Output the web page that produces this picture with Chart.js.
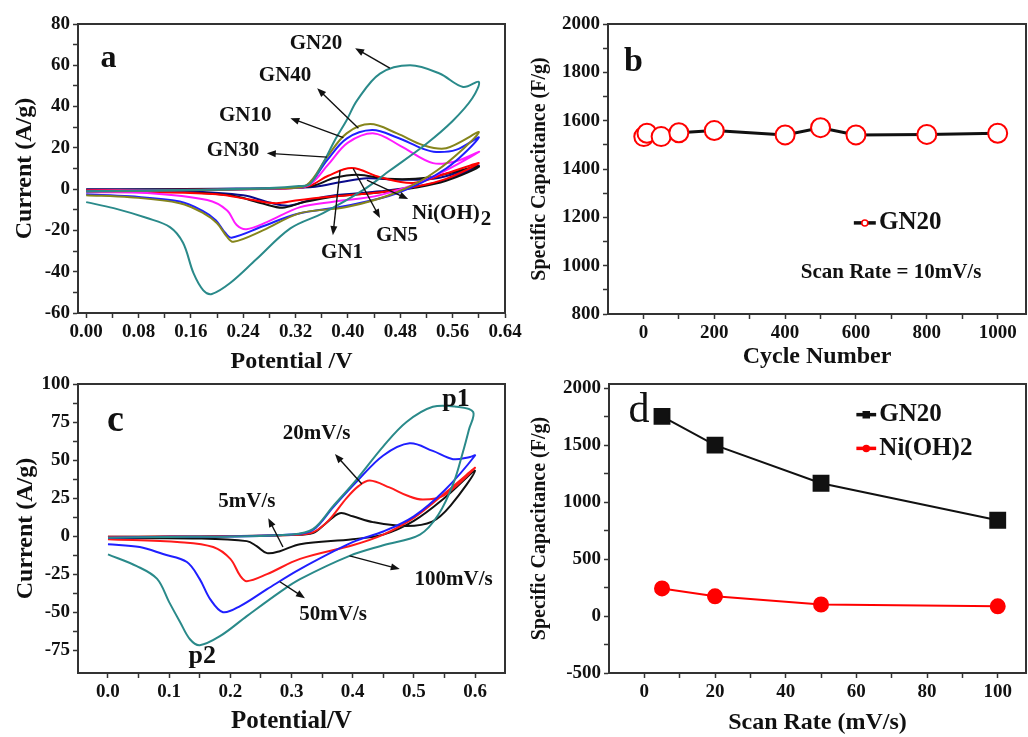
<!DOCTYPE html>
<html>
<head>
<meta charset="utf-8">
<script src="https://cdn.jsdelivr.net/npm/chart.js@4.4.1/dist/chart.umd.min.js"></script>
<style>
  html, body { margin: 0; padding: 0; background: #fff; }
  #wrap { position: relative; width: 1028px; height: 737px; overflow: hidden; }
  canvas { position: absolute; }
</style>
</head>
<body>
<div id="wrap">
  <canvas id="pa" width="530" height="378" style="left:0;top:0"></canvas>
  <canvas id="pb" width="538" height="378" style="left:512px;top:0"></canvas>
  <canvas id="pc" width="512" height="367" style="left:0;top:370px"></canvas>
  <canvas id="pd" width="538" height="367" style="left:512px;top:370px"></canvas>
</div>
<script>
// ---- panel a: CV curves of the composites, [potential V, current A/g], anodic then cathodic
const gn20 = [[0,-1],[0.1,-0.6],[0.2,-0.2],[0.28,0.5],[0.325,1.5],[0.342,2.5],[0.362,12.6],[0.38,23.7],[0.398,33.4],[0.414,43],[0.449,56],[0.495,60],[0.54,56],[0.576,49.5],[0.6,52],
  [0.59,44],[0.56,33],[0.52,22],[0.464,9],[0.423,-0.5],[0.362,-11.6],[0.312,-19],[0.26,-34],[0.22,-45.5],[0.192,-50.8],[0.179,-49],[0.164,-40.7],[0.148,-26],[0.128,-18.4],[0.093,-14],[0.042,-9.2],[0,-6.3]];
const gn40 = [[0,-1.2],[0.1,-0.8],[0.2,-0.3],[0.3,0.5],[0.337,2],[0.368,15.5],[0.398,27],[0.434,31.5],[0.475,27],[0.515,21.3],[0.55,19.8],[0.6,27.5],
  [0.536,9],[0.475,-1.5],[0.398,-8.7],[0.327,-11.6],[0.27,-20],[0.225,-25.5],[0.215,-23],[0.2,-16.5],[0.179,-11.6],[0.143,-6.8],[0.067,-3.9],[0,-2.9]];
const gn10 = [[0,-1],[0.1,-0.7],[0.2,-0.3],[0.3,0.5],[0.338,2],[0.368,14],[0.398,24.5],[0.437,28.6],[0.475,25],[0.515,19.5],[0.535,18],[0.565,19],[0.6,25],
  [0.55,10],[0.475,-2],[0.398,-8],[0.322,-12],[0.27,-18],[0.222,-23.5],[0.212,-21],[0.198,-15],[0.178,-10.5],[0.143,-6],[0.067,-3.5],[0,-2.5]];
const gn30 = [[0,-0.8],[0.1,-0.6],[0.2,-0.3],[0.3,0.4],[0.34,2],[0.37,12],[0.4,22.5],[0.44,27],[0.48,21],[0.53,12.6],[0.565,13.5],[0.6,18],
  [0.525,5.3],[0.449,-2.9],[0.38,-6],[0.327,-8.7],[0.276,-16],[0.245,-19.4],[0.23,-17.4],[0.215,-10.2],[0.185,-5.3],[0.093,-1.9],[0,-1.5]];
const gn1 = [[0,-0.5],[0.1,-0.4],[0.2,-0.2],[0.3,0.3],[0.34,1.5],[0.37,6.5],[0.406,10.2],[0.449,5.8],[0.5,3],[0.551,7.7],[0.6,12.6],
  [0.55,5],[0.5,1],[0.45,-1.5],[0.38,-3.5],[0.32,-5.5],[0.29,-6.8],[0.25,-5],[0.2,-2.5],[0.1,-1.5],[0,-1]];
const gn5 = [[0,-0.3],[0.1,-0.2],[0.2,0],[0.3,0.3],[0.345,1.5],[0.38,5.5],[0.415,7],[0.46,5],[0.52,5.5],[0.6,11],
  [0.55,4],[0.5,0.5],[0.45,-1.5],[0.37,-4],[0.33,-6.5],[0.3,-9],[0.27,-7],[0.22,-3],[0.12,-1],[0,-0.5]];
const nioh = [[0,0],[0.1,0],[0.2,0.2],[0.3,0.5],[0.35,1.2],[0.39,3.5],[0.43,5.3],[0.48,4.5],[0.54,5.5],[0.6,11.5],
  [0.55,4.5],[0.5,1],[0.45,-1],[0.38,-3],[0.34,-5.5],[0.31,-8],[0.28,-6.5],[0.24,-3],[0.15,-1],[0,-0.2]];
const aNames = ['GN20', 'GN40', 'GN10', 'GN30', 'GN1', 'GN5', 'Ni(OH)2'];
const aCurves = [gn20, gn40, gn10, gn30, gn1, gn5, nioh];
const aTicksX = [0, 0.08, 0.16, 0.24, 0.32, 0.40, 0.48, 0.56, 0.64];
const aTicksY = [-60, -40, -20, 0, 20, 40, 60, 80];

// ---- panel b: cycling stability of GN20 at 10 mV/s
const cycles = [1, 10, 50, 100, 200, 400, 500, 600, 800, 1000];
const capCycle = [1534, 1548, 1534, 1550, 1559, 1541, 1571, 1541, 1543, 1548];
const bTicksX = [0, 200, 400, 600, 800, 1000];
const bTicksY = [800, 1000, 1200, 1400, 1600, 1800, 2000];

// ---- panel c: GN20 CV at different scan rates
const cv100 = [[0,-1],[0.1,-0.6],[0.2,-0.2],[0.3,1],[0.335,4.6],[0.368,19.7],[0.407,37.5],[0.45,59],[0.488,75],[0.531,85],[0.57,85],[0.597,81.6],
  [0.59,70],[0.58,55],[0.565,35],[0.54,14],[0.51,1],[0.45,-6],[0.395,-13],[0.314,-28.3],[0.281,-36.8],[0.227,-52.6],[0.183,-65.8],[0.15,-71.7],[0.134,-67.8],[0.118,-56.6],[0.1,-43.4],[0.08,-28],[0.047,-19.7],[0,-12]];
const cv50 = [[0,-1],[0.1,-0.5],[0.2,-0.2],[0.3,1],[0.335,4],[0.368,19],[0.407,36],[0.45,53],[0.493,61],[0.531,56],[0.564,50.6],[0.592,52],[0.6,53],
  [0.55,30],[0.5,13],[0.45,3],[0.4,-4],[0.314,-21.7],[0.26,-34.9],[0.216,-46],[0.188,-50],[0.167,-41.4],[0.15,-28.3],[0.129,-17],[0.09,-11.8],[0.052,-7.2],[0,-5.3]];
const cv20 = [[0,-0.5],[0.1,-0.3],[0.2,0],[0.3,0.8],[0.335,2.5],[0.36,10],[0.39,25],[0.41,33],[0.428,36.5],[0.46,32],[0.49,26.5],[0.515,24],[0.55,27],[0.6,45],
  [0.55,28],[0.5,12],[0.45,1],[0.4,-6],[0.314,-15],[0.26,-25],[0.227,-29.6],[0.216,-26],[0.2,-15],[0.172,-7.2],[0.118,-4],[0,-2]];
const cv5 = [[0,-0.5],[0.1,-0.3],[0.2,0],[0.3,0.8],[0.335,2],[0.355,8],[0.379,15],[0.4,13],[0.433,9.2],[0.488,6.6],[0.53,9.5],[0.56,20],[0.6,43],
  [0.55,25],[0.5,10],[0.45,1],[0.4,-2],[0.314,-5.3],[0.281,-9.9],[0.26,-11.2],[0.243,-6.6],[0.227,-3.3],[0.15,-1.5],[0,-1.5]];
const cNames = ['100mV/s', '50mV/s', '20mV/s', '5mV/s'];
const cCurves = [cv100, cv50, cv20, cv5];
const cTicksX = [0, 0.1, 0.2, 0.3, 0.4, 0.5, 0.6];
const cTicksY = [-75, -50, -25, 0, 25, 50, 75, 100];

// ---- panel d: specific capacitance vs scan rate
const scanRates = [5, 20, 50, 100];
const capGN20 = [1752, 1500, 1165, 840];
const capNiOH = [242, 173, 101, 85];
const dNames = ['GN20', 'Ni(OH)2'];
const dTicksX = [0, 20, 40, 60, 80, 100];
const dTicksY = [-500, 0, 500, 1000, 1500, 2000];

const SERIF = '"Liberation Serif", "DejaVu Serif", serif';
const INK = '#111';

function pts(arr) {
  return arr.map(p => ({ x: p[0], y: p[1] }));
}

// major ticks labelled, minor ticks (midpoints) drawn without label
function axis(min, max, majors, digits, title, titleSize, size, pad) {
  const minors = [];
  for (let i = 0; i < majors.length - 1; i++) minors.push((majors[i] + majors[i + 1]) / 2);
  const all = majors.concat(minors).sort((a, b) => a - b);
  return {
    type: 'linear', min: min, max: max,
    afterBuildTicks: s => { s.ticks = all.map(v => ({ value: v })); },
    afterFit: s => {
      if (s.isHorizontal()) s.height = size; else s.width = size;
      s.paddingLeft = s.paddingRight = s.paddingTop = s.paddingBottom = 0;
    },
    ticks: {
      autoSkip: false, maxRotation: 0, color: INK, padding: 3,
      font: { family: SERIF, size: 19, weight: 'bold' },
      callback: v => majors.some(m => Math.abs(m - v) < 1e-9) ? v.toFixed(digits) : ''
    },
    grid: { drawOnChartArea: false, drawTicks: true, tickLength: 5, tickColor: '#333', tickWidth: 1.5 },
    border: { color: '#333', width: 2 },
    title: { display: true, text: title, color: INK, padding: pad,
      font: { family: SERIF, size: titleSize, weight: 'bold' } }
  };
}

const frame = {
  id: 'frame',
  afterDatasetsDraw(chart) {
    const { ctx, chartArea: a } = chart;
    ctx.save();
    ctx.strokeStyle = '#333';
    ctx.lineWidth = 2;
    ctx.strokeRect(a.left, a.top, a.right - a.left, a.bottom - a.top);
    ctx.restore();
  }
};

function arrow(ctx, x1, y1, x2, y2) {
  const ang = Math.atan2(y2 - y1, x2 - x1);
  ctx.beginPath();
  ctx.moveTo(x1, y1);
  ctx.lineTo(x2 - 6 * Math.cos(ang), y2 - 6 * Math.sin(ang));
  ctx.stroke();
  ctx.beginPath();
  ctx.moveTo(x2, y2);
  ctx.lineTo(x2 - 9 * Math.cos(ang) + 3.5 * Math.sin(ang), y2 - 9 * Math.sin(ang) - 3.5 * Math.cos(ang));
  ctx.lineTo(x2 - 9 * Math.cos(ang) - 3.5 * Math.sin(ang), y2 - 9 * Math.sin(ang) + 3.5 * Math.cos(ang));
  ctx.closePath();
  ctx.fill();
}

// labels, arrows and hand legends, all placed in data units
const notes = {
  id: 'notes',
  afterDraw(chart, args, opts) {
    const { ctx, scales: { x, y } } = chart;
    ctx.save();
    ctx.fillStyle = INK;
    ctx.strokeStyle = INK;
    ctx.lineWidth = 1.4;
    (opts.arrows || []).forEach(a => arrow(ctx, x.getPixelForValue(a[0]), y.getPixelForValue(a[1]),
      x.getPixelForValue(a[2]), y.getPixelForValue(a[3])));
    (opts.keys || []).forEach(k => {
      const x1 = x.getPixelForValue(k.x1), x2 = x.getPixelForValue(k.x2), py = y.getPixelForValue(k.y);
      ctx.strokeStyle = k.line; ctx.lineWidth = 3.5;
      ctx.beginPath(); ctx.moveTo(x1, py); ctx.lineTo(x2, py); ctx.stroke();
      ctx.fillStyle = k.fill; ctx.strokeStyle = k.mark; ctx.lineWidth = 1.5;
      const cx = (x1 + x2) / 2;
      ctx.beginPath();
      if (k.square) ctx.rect(cx - 3, py - 3, 6, 6); else ctx.arc(cx, py, 3, 0, Math.PI * 2);
      ctx.fill(); ctx.stroke();
    });
    ctx.fillStyle = INK;
    ctx.textBaseline = 'middle';
    (opts.texts || []).forEach(t => {
      ctx.font = (t.bold === false ? '' : 'bold ') + t.size + 'px ' + SERIF;
      ctx.textAlign = t.align || 'center';
      const px = x.getPixelForValue(t.x), py = y.getPixelForValue(t.y);
      ctx.fillText(t.text, px, py);
      if (t.sub) {
        const w = ctx.measureText(t.text).width;
        const left = t.align === 'left' ? px : px - w / 2;
        ctx.textAlign = 'left';
        ctx.fillText(t.sub, left + w + 1, py + t.size * 0.3);
      }
    });
    ctx.restore();
  }
};

function cvSet(names, curves, colors) {
  return names.map((n, i) => ({
    label: n, data: pts(curves[i]), showLine: true, borderColor: colors[i],
    borderWidth: 2, pointRadius: 0, tension: 0.35, fill: false
  }));
}

const base = {
  responsive: false, animation: false, events: [],
  plugins: { legend: { display: false }, tooltip: { enabled: false } }
};

new Chart(document.getElementById('pa'), {
  type: 'scatter',
  data: { datasets: cvSet(aNames, aCurves, ['#2a8a8a', '#85851c', '#1f1fff', '#ff1aff', '#ff0000', '#111111', '#0a0a8c']) },
  options: Object.assign({}, base, {
    layout: { padding: { top: 24, right: 25, left: 0, bottom: 0 } },
    scales: {
      x: axis(-0.0125, 0.64, aTicksX, 2, 'Potential /V', 24, 65, { top: 4, bottom: 2 }),
      y: axis(-60, 80, aTicksY, 0, 'Current (A/g)', 24, 78, { top: 10, bottom: 4 })
    },
    plugins: Object.assign({}, base.plugins, { notes: {
      arrows: [[0.464, 58.6, 0.411, 68.3], [0.416, 29.5, 0.353, 48.9], [0.393, 25, 0.312, 34.4],
        [0.368, 15.5, 0.276, 17.4], [0.388, 9.2, 0.377, -22.3], [0.408, 10, 0.449, -14], [0.429, 4.4, 0.492, -4.8]],
      texts: [
        { text: 'a', x: 0.034, y: 63.4, size: 32 },
        { text: aNames[0], x: 0.351, y: 70.7, size: 21 },
        { text: aNames[1], x: 0.304, y: 55.2, size: 21 },
        { text: aNames[2], x: 0.243, y: 35.8, size: 21 },
        { text: aNames[3], x: 0.2245, y: 18.9, size: 21 },
        { text: aNames[4], x: 0.391, y: -30.5, size: 21 },
        { text: aNames[5], x: 0.475, y: -22.3, size: 21 },
        { text: 'Ni(OH)', sub: '2', x: 0.498, y: -11.6, size: 21, align: 'left' }
      ]
    } })
  }),
  plugins: [frame, notes]
});

new Chart(document.getElementById('pb'), {
  type: 'line',
  data: { datasets: [{
    label: 'GN20', data: cycles.map((c, i) => ({ x: c, y: capCycle[i] })),
    borderColor: '#111', borderWidth: 3, pointRadius: 9.5, pointBorderWidth: 2,
    pointBorderColor: '#ff0000', pointBackgroundColor: '#fff', tension: 0
  }] },
  options: Object.assign({}, base, {
    layout: { padding: { top: 24, right: 24, left: 0, bottom: 0 } },
    scales: {
      x: axis(-100, 1080, bTicksX, 0, 'Cycle Number', 24, 64, { top: 4, bottom: 7 }),
      y: axis(800, 2000, bTicksY, 0, 'Specific Capacitance (F/g)', 20, 96, { top: 16, bottom: 4 })
    },
    plugins: Object.assign({}, base.plugins, { notes: {
      keys: [{ x1: 594, x2: 656, y: 1177, line: '#111', mark: '#ff0000', fill: '#fff' }],
      texts: [
        { text: 'b', x: -28, y: 1843, size: 34 },
        { text: 'GN20', x: 665, y: 1177, size: 25, align: 'left' },
        { text: 'Scan Rate = 10mV/s', x: 699, y: 970, size: 21 }
      ]
    } })
  }),
  plugins: [frame, notes]
});

new Chart(document.getElementById('pc'), {
  type: 'scatter',
  data: { datasets: cvSet(cNames, cCurves, ['#2a8a8a', '#1f1fff', '#ff1a1a', '#111111']) },
  options: Object.assign({}, base, {
    layout: { padding: { top: 14, right: 7, left: 0, bottom: 0 } },
    scales: {
      x: axis(-0.049, 0.649, cTicksX, 1, 'Potential/V', 25, 64, { top: 4, bottom: 0 }),
      y: axis(-90, 100, cTicksY, 0, 'Current (A/g)', 24, 78, { top: 11, bottom: 4 })
    },
    plugins: Object.assign({}, base.plugins, { notes: {
      arrows: [[0.415, 34.2, 0.371, 53.9], [0.286, -7.2, 0.262, 11.8], [0.395, -13, 0.477, -21.7], [0.281, -30, 0.322, -40.8]],
      texts: [
        { text: 'c', x: 0.012, y: 75.7, size: 38 },
        { text: cNames[2], x: 0.341, y: 67.1, size: 21 },
        { text: cNames[3], x: 0.227, y: 23, size: 21 },
        { text: cNames[0], x: 0.565, y: -28.3, size: 21 },
        { text: cNames[1], x: 0.368, y: -51.3, size: 21 },
        { text: 'p1', x: 0.569, y: 90.1, size: 26 },
        { text: 'p2', x: 0.154, y: -79, size: 26 }
      ]
    } })
  }),
  plugins: [frame, notes]
});

new Chart(document.getElementById('pd'), {
  type: 'line',
  data: { datasets: [
    { label: dNames[0], data: scanRates.map((r, i) => ({ x: r, y: capGN20[i] })), borderColor: '#111',
      backgroundColor: '#111', borderWidth: 2, pointStyle: 'rect', pointRadius: 10.5, tension: 0 },
    { label: dNames[1], data: scanRates.map((r, i) => ({ x: r, y: capNiOH[i] })), borderColor: '#ff0000',
      backgroundColor: '#ff0000', borderWidth: 2, pointStyle: 'circle', pointRadius: 7, tension: 0 }
  ] },
  options: Object.assign({}, base, {
    layout: { padding: { top: 14, right: 24, left: 0, bottom: 0 } },
    scales: {
      x: axis(-10, 108, dTicksX, 0, 'Scan Rate (mV/s)', 24, 64, { top: 4, bottom: 0 }),
      y: axis(-500, 2036, dTicksY, 0, 'Specific Capacitance (F/g)', 20, 97, { top: 16, bottom: 4 })
    },
    plugins: Object.assign({}, base.plugins, { notes: {
      keys: [{ x1: 60, x2: 65.6, y: 1767, line: '#111', mark: '#111', fill: '#111', square: true },
        { x1: 60, x2: 65.6, y: 1471, line: '#ff0000', mark: '#ff0000', fill: '#ff0000' }],
      texts: [
        { text: 'd', x: -1.5, y: 1800, size: 42, bold: false },
        { text: dNames[0], x: 66.5, y: 1767, size: 25, align: 'left' },
        { text: dNames[1], x: 66.5, y: 1471, size: 25, align: 'left' }
      ]
    } })
  }),
  plugins: [frame, notes]
});
</script>
</body>
</html>
